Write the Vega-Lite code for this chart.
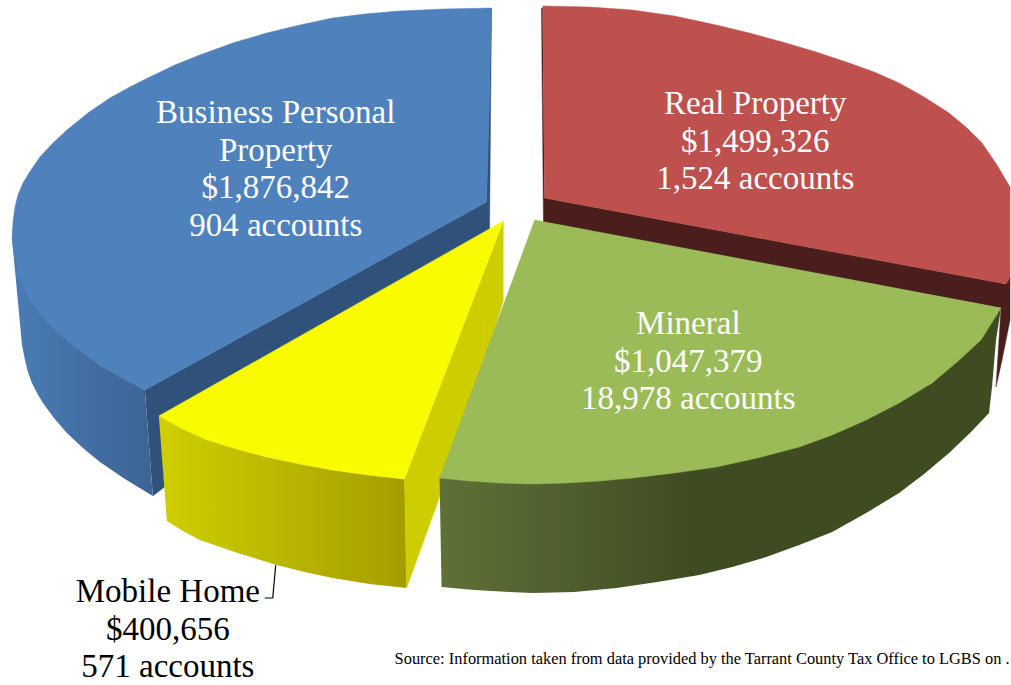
{
"$schema":"https://vega.github.io/schema/vega-lite/v6.json",
"width":1011,"height":685,"autosize":{"type":"fit","contains":"padding"},"padding":0,
"background":"white","view":{"stroke":null},
"datasets":{
"outline":[
{"p":"rcut","i":1,"x":542,"y":8},{"p":"rcut","i":2,"x":544,"y":222},{"p":"rcut","i":3,"x":1002,"y":308},{"p":"rcut","i":4,"x":997,"y":387},{"p":"rcut","i":5,"x":1003,"y":360},{"p":"rcut","i":6,"x":1011,"y":320},{"p":"rcut","i":7,"x":1011,"y":277},{"p":"rcut","i":8,"x":1007,"y":284},{"p":"rcut","i":9,"x":545,"y":198},{"p":"rcut","i":10,"x":543,"y":8},
{"p":"rtop","i":1,"x":543,"y":6},{"p":"rtop","i":2,"x":590,"y":7},{"p":"rtop","i":3,"x":633,"y":10},{"p":"rtop","i":4,"x":675,"y":16},{"p":"rtop","i":5,"x":717,"y":25},{"p":"rtop","i":6,"x":750,"y":33},{"p":"rtop","i":7,"x":783,"y":42},{"p":"rtop","i":8,"x":817,"y":52},{"p":"rtop","i":9,"x":850,"y":63},{"p":"rtop","i":10,"x":875,"y":72},{"p":"rtop","i":11,"x":900,"y":83},{"p":"rtop","i":12,"x":925,"y":97},{"p":"rtop","i":13,"x":950,"y":113},{"p":"rtop","i":14,"x":968,"y":128},{"p":"rtop","i":15,"x":983,"y":143},{"p":"rtop","i":16,"x":998,"y":165},{"p":"rtop","i":17,"x":1011,"y":187},{"p":"rtop","i":18,"x":1011,"y":277},{"p":"rtop","i":19,"x":1007,"y":284},{"p":"rtop","i":20,"x":545,"y":198},
{"p":"bcut","i":1,"x":145,"y":390},{"p":"bcut","i":2,"x":487,"y":202},{"p":"bcut","i":3,"x":492,"y":8},{"p":"bcut","i":4,"x":490,"y":235},{"p":"bcut","i":5,"x":153,"y":496},
{"p":"bside","i":1,"x":12,"y":238},{"p":"bside","i":2,"x":22,"y":345},{"p":"bside","i":3,"x":25,"y":360},{"p":"bside","i":4,"x":28,"y":372},{"p":"bside","i":5,"x":32,"y":383},{"p":"bside","i":6,"x":37,"y":393},{"p":"bside","i":7,"x":43,"y":403},{"p":"bside","i":8,"x":54,"y":418},{"p":"bside","i":9,"x":67,"y":433},{"p":"bside","i":10,"x":83,"y":448},{"p":"bside","i":11,"x":100,"y":462},{"p":"bside","i":12,"x":125,"y":479},{"p":"bside","i":13,"x":153,"y":496},{"p":"bside","i":14,"x":145,"y":390},{"p":"bside","i":15,"x":100,"y":365},{"p":"bside","i":16,"x":67,"y":340},{"p":"bside","i":17,"x":30,"y":300},
{"p":"btop","i":1,"x":492,"y":8},{"p":"btop","i":2,"x":445,"y":9},{"p":"btop","i":3,"x":400,"y":11},{"p":"btop","i":4,"x":365,"y":14},{"p":"btop","i":5,"x":333,"y":18},{"p":"btop","i":6,"x":300,"y":25},{"p":"btop","i":7,"x":267,"y":33},{"p":"btop","i":8,"x":233,"y":43},{"p":"btop","i":9,"x":200,"y":55},{"p":"btop","i":10,"x":175,"y":65},{"p":"btop","i":11,"x":150,"y":77},{"p":"btop","i":12,"x":130,"y":87},{"p":"btop","i":13,"x":110,"y":98},{"p":"btop","i":14,"x":88,"y":113},{"p":"btop","i":15,"x":67,"y":130},{"p":"btop","i":16,"x":52,"y":144},{"p":"btop","i":17,"x":40,"y":157},{"p":"btop","i":18,"x":31,"y":170},{"p":"btop","i":19,"x":23,"y":183},{"p":"btop","i":20,"x":18,"y":195},{"p":"btop","i":21,"x":15,"y":207},{"p":"btop","i":22,"x":13,"y":222},{"p":"btop","i":23,"x":12,"y":238},{"p":"btop","i":24,"x":14,"y":254},{"p":"btop","i":25,"x":17,"y":270},{"p":"btop","i":26,"x":23,"y":286},{"p":"btop","i":27,"x":30,"y":300},{"p":"btop","i":28,"x":40,"y":314},{"p":"btop","i":29,"x":50,"y":325},{"p":"btop","i":30,"x":58,"y":333},{"p":"btop","i":31,"x":67,"y":340},{"p":"btop","i":32,"x":83,"y":353},{"p":"btop","i":33,"x":100,"y":365},{"p":"btop","i":34,"x":122,"y":378},{"p":"btop","i":35,"x":145,"y":390},{"p":"btop","i":36,"x":487,"y":202},{"p":"btop","i":37,"x":490,"y":100},
{"p":"yside","i":1,"x":159,"y":416},{"p":"yside","i":2,"x":167,"y":521},{"p":"yside","i":3,"x":183,"y":531},{"p":"yside","i":4,"x":200,"y":540},{"p":"yside","i":5,"x":238,"y":553},{"p":"yside","i":6,"x":277,"y":565},{"p":"yside","i":7,"x":305,"y":572},{"p":"yside","i":8,"x":333,"y":578},{"p":"yside","i":9,"x":370,"y":584},{"p":"yside","i":10,"x":407,"y":588},{"p":"yside","i":11,"x":405,"y":479},{"p":"yside","i":12,"x":333,"y":470},{"p":"yside","i":13,"x":267,"y":457},{"p":"yside","i":14,"x":207,"y":440},
{"p":"ycut","i":1,"x":504,"y":221},{"p":"ycut","i":2,"x":405,"y":479},{"p":"ycut","i":3,"x":407,"y":588},{"p":"ycut","i":4,"x":440,"y":497},{"p":"ycut","i":5,"x":490,"y":345},{"p":"ycut","i":6,"x":504,"y":300},
{"p":"ytop","i":1,"x":504,"y":221},{"p":"ytop","i":2,"x":159,"y":416},{"p":"ytop","i":3,"x":183,"y":429},{"p":"ytop","i":4,"x":207,"y":440},{"p":"ytop","i":5,"x":237,"y":449},{"p":"ytop","i":6,"x":267,"y":457},{"p":"ytop","i":7,"x":300,"y":464},{"p":"ytop","i":8,"x":333,"y":470},{"p":"ytop","i":9,"x":368,"y":475},{"p":"ytop","i":10,"x":405,"y":479},
{"p":"gside","i":1,"x":440,"y":478},{"p":"gside","i":2,"x":442,"y":587},{"p":"gside","i":3,"x":475,"y":590},{"p":"gside","i":4,"x":510,"y":592},{"p":"gside","i":5,"x":533,"y":593},{"p":"gside","i":6,"x":575,"y":592},{"p":"gside","i":7,"x":617,"y":588},{"p":"gside","i":8,"x":658,"y":582},{"p":"gside","i":9,"x":700,"y":575},{"p":"gside","i":10,"x":733,"y":567},{"p":"gside","i":11,"x":767,"y":557},{"p":"gside","i":12,"x":800,"y":545},{"p":"gside","i":13,"x":833,"y":532},{"p":"gside","i":14,"x":867,"y":513},{"p":"gside","i":15,"x":900,"y":493},{"p":"gside","i":16,"x":925,"y":474},{"p":"gside","i":17,"x":950,"y":453},{"p":"gside","i":18,"x":972,"y":432},{"p":"gside","i":19,"x":990,"y":413},{"p":"gside","i":20,"x":993,"y":387},{"p":"gside","i":21,"x":997,"y":340},{"p":"gside","i":22,"x":1002,"y":308},{"p":"gside","i":23,"x":933,"y":383},
{"p":"gtop","i":1,"x":535,"y":220},{"p":"gtop","i":2,"x":1002,"y":308},{"p":"gtop","i":3,"x":982,"y":340},{"p":"gtop","i":4,"x":958,"y":362},{"p":"gtop","i":5,"x":933,"y":383},{"p":"gtop","i":6,"x":900,"y":403},{"p":"gtop","i":7,"x":867,"y":420},{"p":"gtop","i":8,"x":833,"y":435},{"p":"gtop","i":9,"x":800,"y":447},{"p":"gtop","i":10,"x":758,"y":458},{"p":"gtop","i":11,"x":717,"y":467},{"p":"gtop","i":12,"x":675,"y":473},{"p":"gtop","i":13,"x":633,"y":478},{"p":"gtop","i":14,"x":600,"y":481},{"p":"gtop","i":15,"x":567,"y":483},{"p":"gtop","i":16,"x":533,"y":484},{"p":"gtop","i":17,"x":500,"y":483},{"p":"gtop","i":18,"x":470,"y":481},{"p":"gtop","i":19,"x":440,"y":478},
{"p":"leader","i":1,"x":276,"y":565},{"p":"leader","i":2,"x":273,"y":598},{"p":"leader","i":3,"x":265,"y":598}
],
"slices":[
{"name":"Business Personal Property","value":1876842,"accounts":904,"label":"Business Personal\nProperty\n$1,876,842\n904 accounts","lx":276,"ly":123,"tone":"light"},
{"name":"Real Property","value":1499326,"accounts":1524,"label":"Real Property\n$1,499,326\n1,524 accounts","lx":756,"ly":114,"tone":"light"},
{"name":"Mineral","value":1047379,"accounts":18978,"label":"Mineral\n$1,047,379\n18,978 accounts","lx":689,"ly":334,"tone":"light"},
{"name":"Mobile Home","value":400656,"accounts":571,"label":"Mobile Home\n$400,656\n571 accounts","lx":168,"ly":602,"tone":"dark"}
],
"notes":[{"label":"Source: Information taken from data provided by the Tarrant County Tax Office to LGBS on .","lx":395,"ly":664}]
},
"layer":[
{"data":{"name":"outline"},"transform":[{"filter":"datum.p==='rcut'"}],"mark":{"type":"line","fill":"#4b1e1e","stroke":"#4b1e1e","strokeWidth":0.5},"encoding":{"x":{"field":"x","type":"quantitative","scale":{"domain":[0,1011],"nice":false,"zero":false},"axis":null},"y":{"field":"y","type":"quantitative","scale":{"domain":[685,0],"nice":false,"zero":false},"axis":null},"order":{"field":"i"}}},
{"data":{"name":"outline"},"transform":[{"filter":"datum.p==='rtop'"}],"mark":{"type":"line","fill":"#be504e","stroke":"#be504e","strokeWidth":0.5},"encoding":{"x":{"field":"x","type":"quantitative","axis":null},"y":{"field":"y","type":"quantitative","axis":null},"order":{"field":"i"}}},
{"data":{"name":"outline"},"transform":[{"filter":"datum.p==='bcut'"}],"mark":{"type":"line","fill":"#30527a","stroke":"#30527a","strokeWidth":0.5},"encoding":{"x":{"field":"x","type":"quantitative","axis":null},"y":{"field":"y","type":"quantitative","axis":null},"order":{"field":"i"}}},
{"data":{"name":"outline"},"transform":[{"filter":"datum.p==='bside'"}],"mark":{"type":"line","strokeWidth":0,"fill":{"gradient":"linear","x1":0,"y1":0,"x2":1,"y2":0,"stops":[{"offset":0,"color":"#4a7cb6"},{"offset":0.5,"color":"#436fa4"},{"offset":1,"color":"#3c6496"}]}},"encoding":{"x":{"field":"x","type":"quantitative","axis":null},"y":{"field":"y","type":"quantitative","axis":null},"order":{"field":"i"}}},
{"data":{"name":"outline"},"transform":[{"filter":"datum.p==='btop'"}],"mark":{"type":"line","fill":"#4f81bd","stroke":"#4f81bd","strokeWidth":0.5},"encoding":{"x":{"field":"x","type":"quantitative","axis":null},"y":{"field":"y","type":"quantitative","axis":null},"order":{"field":"i"}}},
{"data":{"name":"outline"},"transform":[{"filter":"datum.p==='yside'"}],"mark":{"type":"line","strokeWidth":0,"fill":{"gradient":"linear","x1":0,"y1":0,"x2":1,"y2":0,"stops":[{"offset":0,"color":"#cfcf00"},{"offset":1,"color":"#a39e00"}]}},"encoding":{"x":{"field":"x","type":"quantitative","axis":null},"y":{"field":"y","type":"quantitative","axis":null},"order":{"field":"i"}}},
{"data":{"name":"outline"},"transform":[{"filter":"datum.p==='ycut'"}],"mark":{"type":"line","fill":"#cdcd00","stroke":"#cdcd00","strokeWidth":0.5},"encoding":{"x":{"field":"x","type":"quantitative","axis":null},"y":{"field":"y","type":"quantitative","axis":null},"order":{"field":"i"}}},
{"data":{"name":"outline"},"transform":[{"filter":"datum.p==='ytop'"}],"mark":{"type":"line","fill":"#fbfb00","stroke":"#fbfb00","strokeWidth":0.5},"encoding":{"x":{"field":"x","type":"quantitative","axis":null},"y":{"field":"y","type":"quantitative","axis":null},"order":{"field":"i"}}},
{"data":{"name":"outline"},"transform":[{"filter":"datum.p==='gside'"}],"mark":{"type":"line","strokeWidth":0,"fill":{"gradient":"linear","x1":0,"y1":0,"x2":1,"y2":0,"stops":[{"offset":0,"color":"#5f7138"},{"offset":0.45,"color":"#3f4c22"},{"offset":1,"color":"#3f4c22"}]}},"encoding":{"x":{"field":"x","type":"quantitative","axis":null},"y":{"field":"y","type":"quantitative","axis":null},"order":{"field":"i"}}},
{"data":{"name":"outline"},"transform":[{"filter":"datum.p==='gtop'"}],"mark":{"type":"line","fill":"#9bbb59","stroke":"#9bbb59","strokeWidth":0.5},"encoding":{"x":{"field":"x","type":"quantitative","axis":null},"y":{"field":"y","type":"quantitative","axis":null},"order":{"field":"i"}}},
{"data":{"name":"outline"},"transform":[{"filter":"datum.p==='leader'"}],"mark":{"type":"line","stroke":"#000000","strokeWidth":1.2},"encoding":{"x":{"field":"x","type":"quantitative","axis":null},"y":{"field":"y","type":"quantitative","axis":null},"order":{"field":"i"}}},
{"data":{"name":"slices"},"mark":{"type":"text","font":"Liberation Serif","fontSize":33,"align":"center","baseline":"alphabetic","lineBreak":"\n","lineHeight":37.5},"encoding":{"x":{"field":"lx","type":"quantitative","axis":null},"y":{"field":"ly","type":"quantitative","axis":null},"text":{"field":"label"},"color":{"field":"tone","type":"nominal","scale":{"domain":["light","dark"],"range":["#ffffff","#000000"]},"legend":null}}},
{"data":{"name":"notes"},"mark":{"type":"text","font":"Liberation Serif","fontSize":16.4,"align":"left","baseline":"alphabetic","color":"#000000"},"encoding":{"x":{"field":"lx","type":"quantitative","axis":null},"y":{"field":"ly","type":"quantitative","axis":null},"text":{"field":"label"}}}
]
}
